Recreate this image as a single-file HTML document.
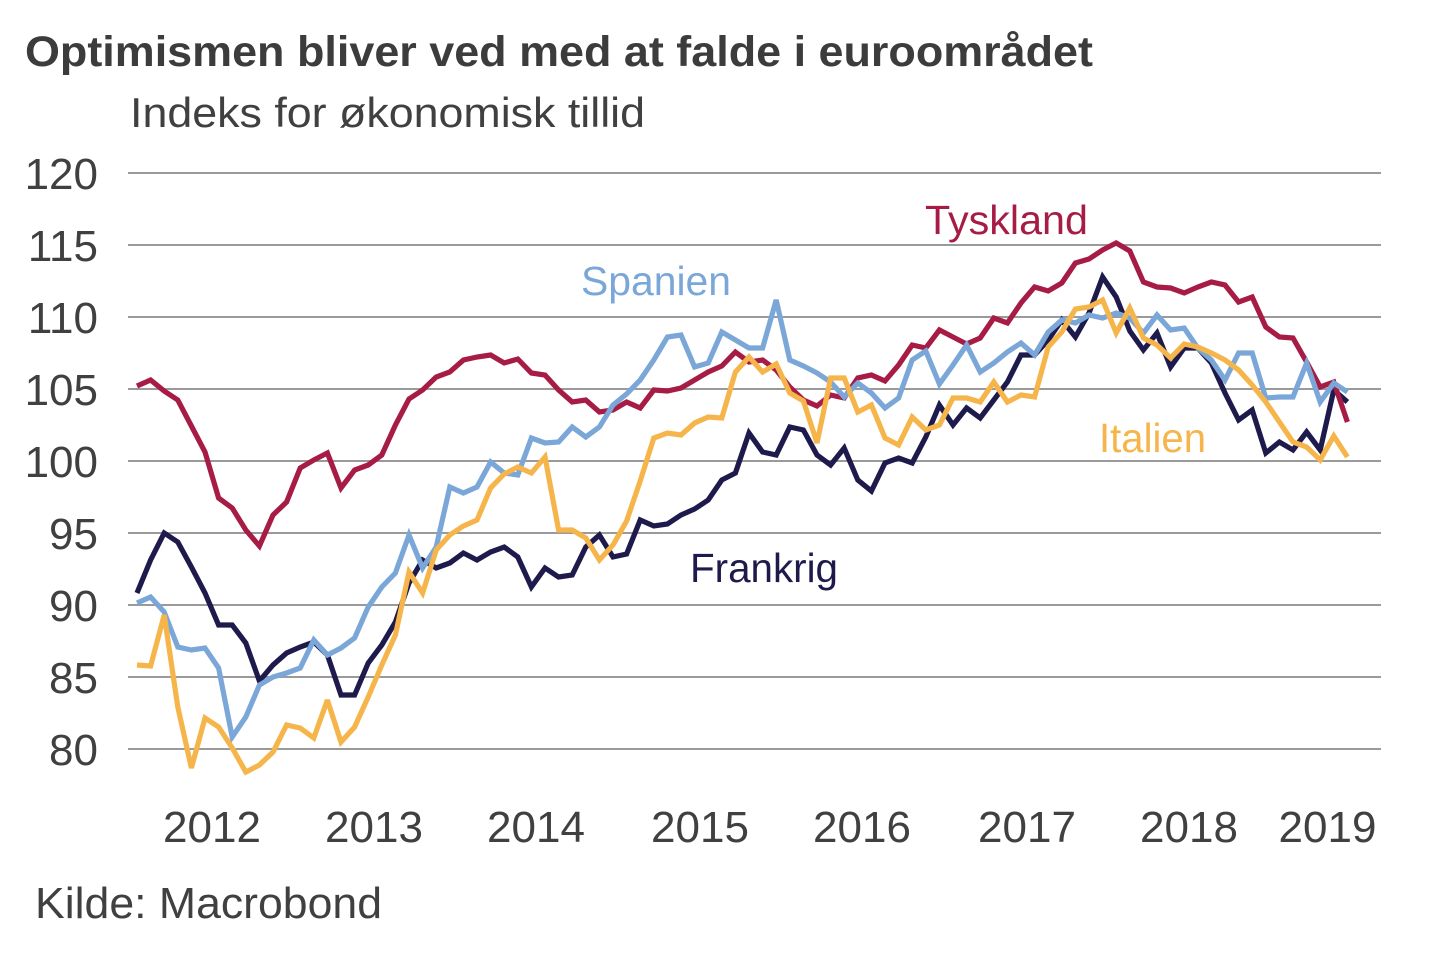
<!DOCTYPE html>
<html>
<head>
<meta charset="utf-8">
<style>
  html, body { margin: 0; padding: 0; background: #ffffff; }
  body { width: 1440px; height: 960px; overflow: hidden; }
  svg { display: block; }
  text { font-family: "Liberation Sans", Arial, sans-serif; }
</style>
</head>
<body>
<svg width="1440" height="960" viewBox="0 0 1440 960" xmlns="http://www.w3.org/2000/svg">
  <rect x="0" y="0" width="1440" height="960" fill="#ffffff"/>

  <!-- Title -->
  <text x="25" y="66" font-size="43" font-weight="bold" fill="#3c3c3c" textLength="1068" lengthAdjust="spacingAndGlyphs">Optimismen bliver ved med at falde i euroområdet</text>
  <text x="130" y="127" font-size="42" fill="#404040" textLength="515" lengthAdjust="spacingAndGlyphs">Indeks for økonomisk tillid</text>

  <!-- Gridlines -->
  <g stroke="#9a9a9a" stroke-width="2">
    <line x1="128" y1="173" x2="1381" y2="173"/>
    <line x1="128" y1="245" x2="1381" y2="245"/>
    <line x1="128" y1="317" x2="1381" y2="317"/>
    <line x1="128" y1="389" x2="1381" y2="389"/>
    <line x1="128" y1="461" x2="1381" y2="461"/>
    <line x1="128" y1="533" x2="1381" y2="533"/>
    <line x1="128" y1="605" x2="1381" y2="605"/>
    <line x1="128" y1="677" x2="1381" y2="677"/>
    <line x1="128" y1="749" x2="1381" y2="749"/>
  </g>

  <!-- Y labels -->
  <g font-size="44" fill="#404040" text-anchor="end">
    <text x="98" y="189">120</text>
    <text x="98" y="261">115</text>
    <text x="98" y="333">110</text>
    <text x="98" y="405">105</text>
    <text x="98" y="477">100</text>
    <text x="98" y="549">95</text>
    <text x="98" y="621">90</text>
    <text x="98" y="693">85</text>
    <text x="98" y="765">80</text>
  </g>

  <!-- X labels -->
  <g font-size="44" fill="#404040" text-anchor="middle">
    <text x="212" y="842">2012</text>
    <text x="374" y="842">2013</text>
    <text x="536" y="842">2014</text>
    <text x="700" y="842">2015</text>
    <text x="862" y="842">2016</text>
    <text x="1027" y="842">2017</text>
    <text x="1189" y="842">2018</text>
    <text x="1327.5" y="842">2019</text>
  </g>

  <!-- Series -->
  <g fill="none" stroke-width="5.2" stroke-linejoin="miter" stroke-miterlimit="3" stroke-linecap="butt">
    <!-- Frankrig -->
    <polyline stroke="#1e1a4c" points="137,593 150.6,560 164.2,533 177.8,542 191.4,567 205,593 218.6,625 232.2,625 245.8,643 259.4,681 273,665 286.6,653 300.2,647 313.8,642 327.4,655 341,695 354.6,695 368.2,663 381.8,645 395.4,622 409,583 422.6,560 436.2,568 449.8,563 463.4,553 477,560 490.6,552 504.2,547 517.8,557 531.4,587 545,568 558.6,577 572.2,575 585.8,547 599.4,535 613,557 626.6,554 640.2,520 653.8,526 667.4,524 681,515 694.6,509 708.2,500 721.8,480 735.4,473 749,433 762.6,452 776.2,455 789.8,427 803.4,430 817,455 830.6,465 844.2,448 857.8,480 871.4,491 885,463 898.6,458 912.2,463 925.8,437 939.4,405 953,425 966.6,408 980.2,418 993.8,400 1007.4,382 1021,355 1034.6,355 1048.2,340 1061.8,320 1075.4,337 1089,313 1102.6,277 1116.2,297 1129.8,331 1143.4,350 1157,333 1170.6,367 1184.2,348 1197.8,348 1211.4,363 1225,393 1238.6,420 1252.2,410 1265.8,453 1279.4,442 1293,450 1306.6,432 1320.2,450 1333.8,390 1347.4,402"/>
    <!-- Tyskland -->
    <polyline stroke="#a61c45" points="137,386 150.6,380 164.2,391 177.8,400 191.4,426 205,452 218.6,498 232.2,508 245.8,530 259.4,546 273,515 286.6,502 300.2,468 313.8,460 327.4,453 341,488 354.6,470 368.2,465 381.8,455 395.4,425 409,399 422.6,390 436.2,377 449.8,372 463.4,360 477,357 490.6,355 504.2,363 517.8,359 531.4,373 545,375 558.6,390 572.2,402 585.8,400 599.4,412 613,410 626.6,402 640.2,408 653.8,390 667.4,391 681,388 694.6,380 708.2,372 721.8,366 735.4,352 749,362 762.6,360 776.2,370 789.8,387 803.4,400 817,406 830.6,395 844.2,398 857.8,378 871.4,375 885,381 898.6,365 912.2,345 925.8,348 939.4,330 953,337 966.6,344 980.2,338 993.8,318 1007.4,323 1021,303 1034.6,287 1048.2,291 1061.8,283 1075.4,263 1089,259 1102.6,250 1116.2,243 1129.8,251 1143.4,282 1157,287 1170.6,288 1184.2,293 1197.8,287 1211.4,282 1225,285 1238.6,302 1252.2,297 1265.8,327 1279.4,337 1293,338 1306.6,362 1320.2,387 1333.8,382 1347.4,422"/>
    <!-- Spanien -->
    <polyline stroke="#7ba7d8" points="137,603 150.6,597 164.2,612 177.8,647 191.4,650 205,648 218.6,668 232.2,737 245.8,717 259.4,685 273,677 286.6,673 300.2,668 313.8,640 327.4,655 341,648 354.6,638 368.2,607 381.8,587 395.4,573 409,535 422.6,568 436.2,547 449.8,487 463.4,493 477,487 490.6,462 504.2,473 517.8,475 531.4,438 545,443 558.6,442 572.2,427 585.8,437 599.4,427 613,405 626.6,394 640.2,380 653.8,360 667.4,337 681,335 694.6,367 708.2,363 721.8,332 735.4,340 749,348 762.6,348 776.2,300 789.8,360 803.4,366 817,373 830.6,382 844.2,397 857.8,383 871.4,393 885,408 898.6,398 912.2,360 925.8,351 939.4,384 953,365 966.6,345 980.2,372 993.8,363 1007.4,352 1021,343 1034.6,355 1048.2,332 1061.8,320 1075.4,323 1089,315 1102.6,318 1116.2,313 1129.8,318 1143.4,333 1157,315 1170.6,330 1184.2,328 1197.8,348 1211.4,360 1225,380 1238.6,353 1252.2,353 1265.8,398 1279.4,397 1293,397 1306.6,363 1320.2,402 1333.8,383 1347.4,392"/>
    <!-- Italien -->
    <polyline stroke="#f6b54a" points="137,665 150.6,666 164.2,615 177.8,707 191.4,768 205,718 218.6,727 232.2,748 245.8,772 259.4,765 273,752 286.6,725 300.2,728 313.8,738 327.4,700 341,742 354.6,727 368.2,697 381.8,665 395.4,635 409,572 422.6,593 436.2,550 449.8,535 463.4,526 477,520 490.6,488 504.2,474 517.8,467 531.4,473 545,457 558.6,530 572.2,530 585.8,538 599.4,560 613,545 626.6,521 640.2,481 653.8,438 667.4,433 681,435 694.6,423 708.2,417 721.8,418 735.4,372 749,357 762.6,372 776.2,364 789.8,393 803.4,401 817,443 830.6,378 844.2,378 857.8,412 871.4,405 885,438 898.6,445 912.2,417 925.8,430 939.4,425 953,398 966.6,398 980.2,402 993.8,382 1007.4,402 1021,395 1034.6,397 1048.2,347 1061.8,332 1075.4,309 1089,307 1102.6,300 1116.2,333 1129.8,308 1143.4,338 1157,345 1170.6,358 1184.2,344 1197.8,347 1211.4,353 1225,360 1238.6,370 1252.2,385 1265.8,402 1279.4,422 1293,442 1306.6,447 1320.2,460 1333.8,436 1347.4,457"/>
  </g>

  <!-- Series labels -->
  <text x="925" y="234" font-size="41" fill="#a61c45" textLength="163" lengthAdjust="spacingAndGlyphs">Tyskland</text>
  <text x="581" y="295" font-size="41" fill="#7ba7d8" textLength="150" lengthAdjust="spacingAndGlyphs">Spanien</text>
  <text x="1099" y="452" font-size="41" fill="#f6b54a" textLength="107" lengthAdjust="spacingAndGlyphs">Italien</text>
  <text x="690" y="582" font-size="41" fill="#1e1a4c" textLength="148" lengthAdjust="spacingAndGlyphs">Frankrig</text>

  <!-- Source -->
  <text x="35" y="918" font-size="44" fill="#404040" textLength="347" lengthAdjust="spacingAndGlyphs">Kilde: Macrobond</text>
</svg>
</body>
</html>
